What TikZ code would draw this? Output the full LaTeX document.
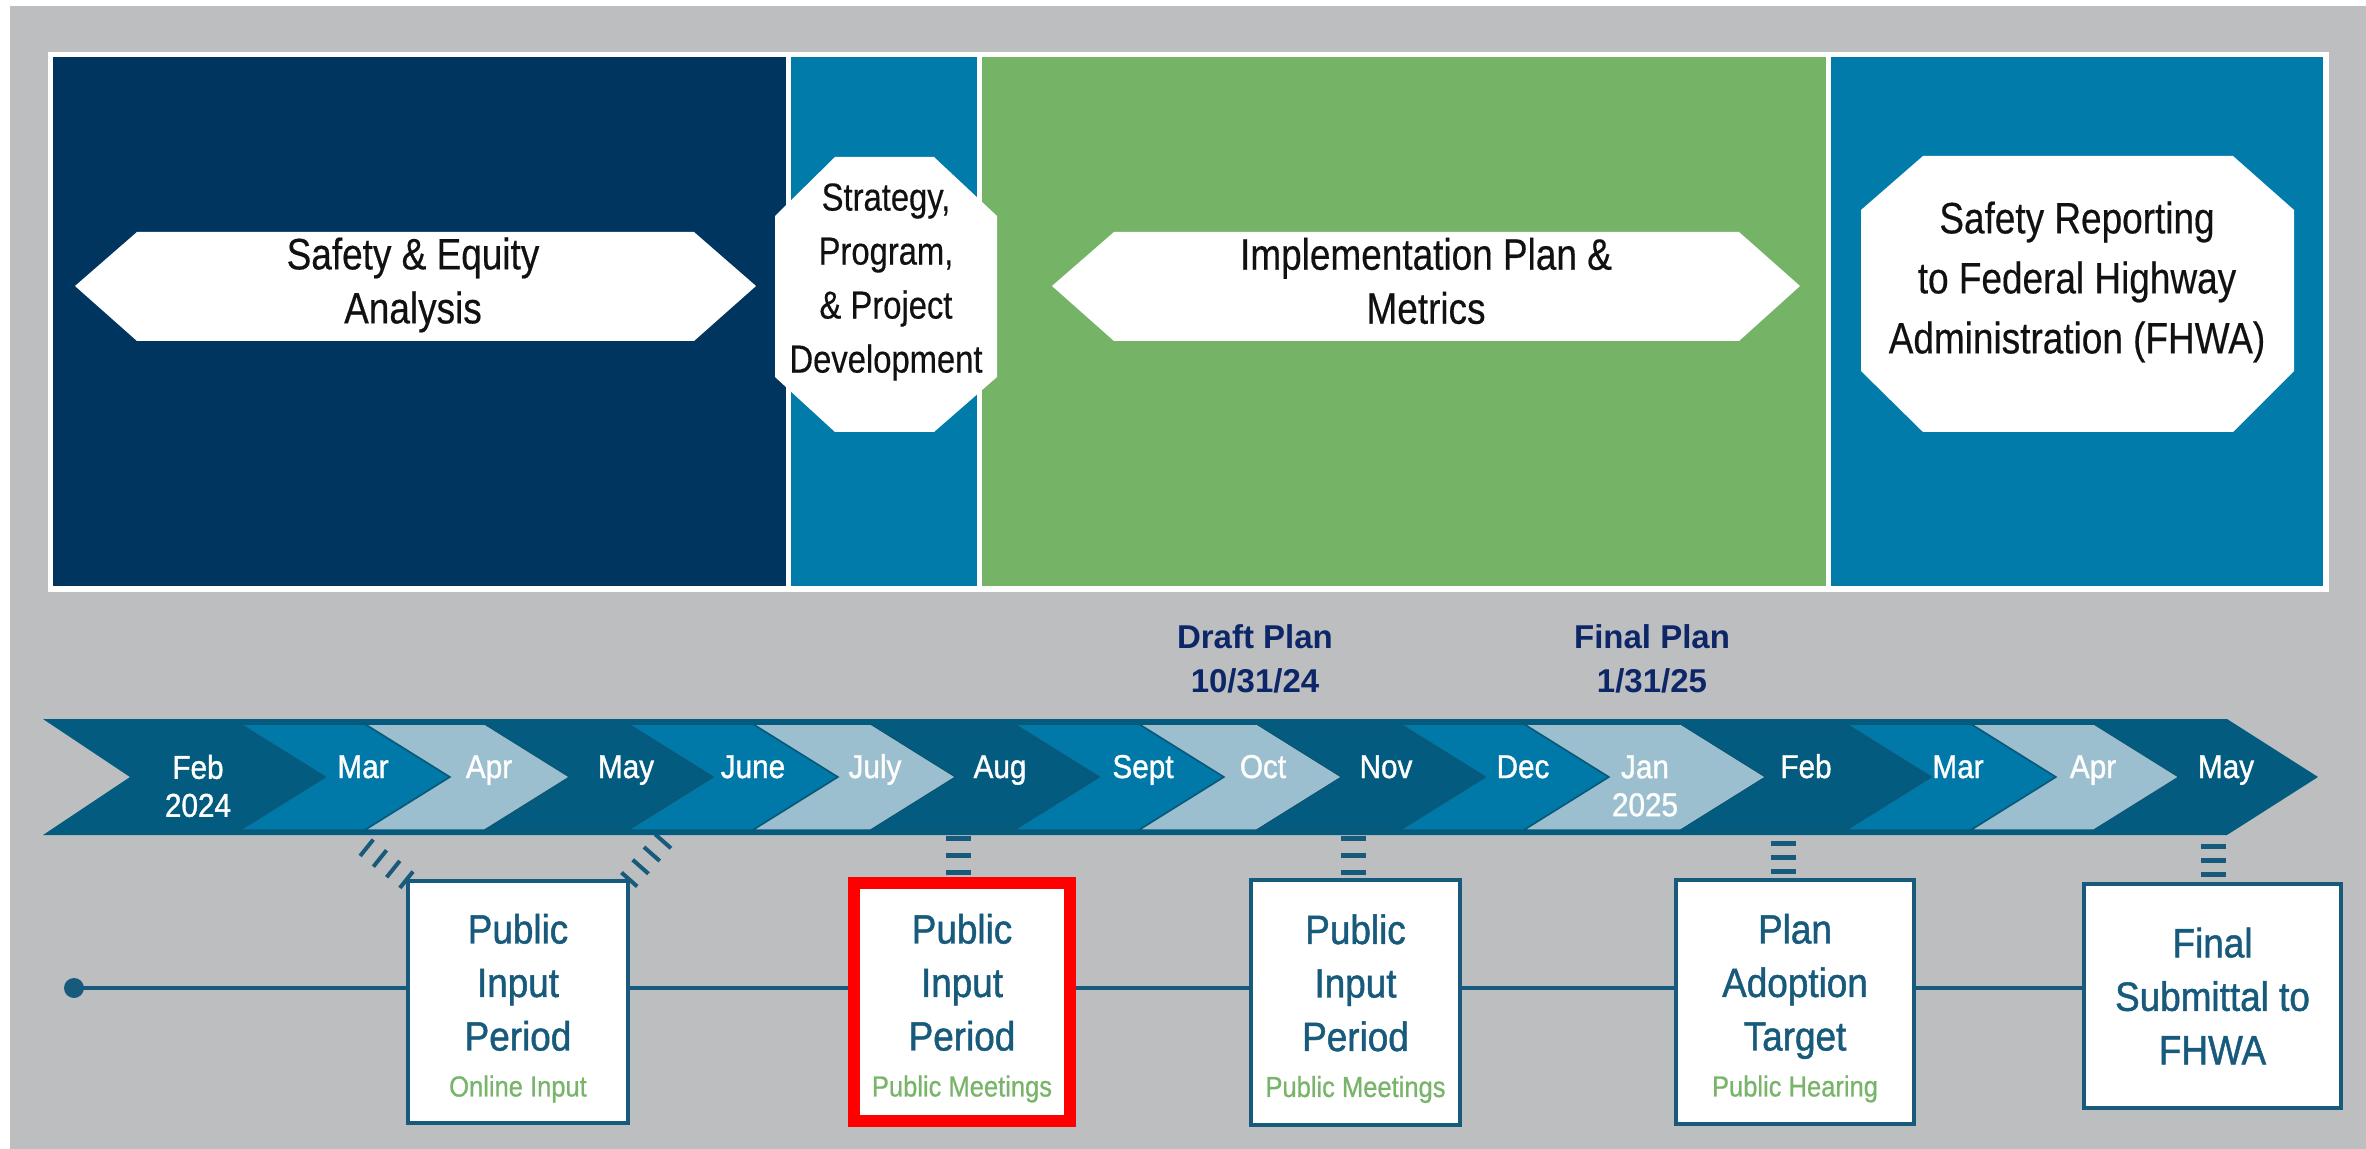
\documentclass[tikz,border=0pt]{standalone}
\usepackage{fontspec}
\setmainfont{Liberation Sans}
\newfontfamily\condf{Liberation Sans}[FakeStretch=0.84,FakeBold=0.4]
\newfontfamily\medf{Liberation Sans}[FakeStretch=0.9,FakeBold=1.1]
\usetikzlibrary{calc}
\definecolor{bggrey}{HTML}{BDBEC0}
\definecolor{navy}{HTML}{00355F}
\definecolor{panelblue}{HTML}{007BAA}
\definecolor{pgreen}{HTML}{75B466}
\definecolor{banddark}{HTML}{035C80}
\definecolor{bandedge}{HTML}{0A5878}
\definecolor{bandmid}{HTML}{0079A9}
\definecolor{bandlight}{HTML}{9BBFCF}
\definecolor{boxblue}{HTML}{175A7B}
\definecolor{subgreen}{HTML}{78B46A}
\definecolor{msnavy}{HTML}{0C2668}
\definecolor{inktext}{HTML}{111111}
\newcommand\subt[1]{{\color{subgreen}\fontsize{14.5}{16}\selectfont\addfontfeature{FakeStretch=0.88,FakeBold=0.7}#1}}
\newcommand\boxstrut{\rule{0pt}{21pt}}
\pgfdeclarelayer{back}
\pgfdeclarelayer{mid}
\pgfsetlayers{back,mid,main}
\begin{document}
\begin{tikzpicture}[x=0.5pt,y=-0.5pt,
  toptext/.style={text=inktext,align=center,inner sep=0pt,font=\condf\fontsize{22}{27}\selectfont},
  month/.style={text=white,align=center,inner sep=0pt,font=\medf\fontsize{16.5}{19}\selectfont},
  milestone/.style={text=msnavy,align=center,inner sep=0pt,font=\bfseries\fontsize{16.5}{22}\selectfont},
  mbox/.style={draw=boxblue,line width=2pt,fill=white,align=center,text=boxblue,inner sep=0pt,outer sep=0pt,font=\medf\fontsize{20.5}{26.75}\selectfont},
  chev/.style={draw=bandedge,line width=0.75pt},
  conn/.style={draw=boxblue,line width=1.75pt},
  hatch/.style={draw=boxblue,line width=10.5pt,dash pattern=on 2pt off 6.5pt},
  bars/.style={draw=boxblue,line width=12.5pt},
]
\useasboundingbox (0,0) rectangle (2366,1149);
\begin{pgfonlayer}{back}
\fill[white] (0,0) rectangle (2366,1149);
\fill[bggrey] (10,6) rectangle (2366,1149);
\end{pgfonlayer}

% top panel
\fill[white] (48,52) rectangle (2329,592);
\fill[navy] (53,57) rectangle (786,586);
\fill[panelblue] (791,57) rectangle (977,586);
\fill[pgreen] (982,57) rectangle (1826,586);
\fill[panelblue] (1831,57) rectangle (2323,586);

\fill[white] (75,286) -- (137,232) -- (694,232) -- (756,286) -- (694,341) -- (137,341) -- cycle;
\fill[white] (1052,286) -- (1114,232) -- (1739,232) -- (1800,286) -- (1739,341) -- (1114,341) -- cycle;
\fill[white] (835,157) -- (934,157) -- (997,216) -- (997,377) -- (934,432) -- (835,432) -- (775,377) -- (775,216) -- cycle;
\fill[white] (1923,156) -- (2233,156) -- (2294,210) -- (2294,371) -- (2233,432) -- (1923,432) -- (1861,371) -- (1861,210) -- cycle;

\node[toptext] (t1) at (413,285) {Safety \& Equity\\Analysis};
\node[toptext,font=\condf\fontsize{19.5}{27}\selectfont] (t2) at (886,282) {Strategy,\\Program,\\\& Project\\Development};
\node[toptext] (t3) at (1426,281) {Implementation Plan \&\\Metrics};
\node[toptext,font=\condf\fontsize{22}{30}\selectfont] (t4) at (2077,282) {Safety Reporting\\to Federal Highway\\Administration (FHWA)};

% milestones
\node[milestone] (draft) at (1255,659) {Draft Plan\\10/31/24};
\node[milestone] (final) at (1652,659) {Final Plan\\1/31/25};

% timeline band
\fill[banddark] (43,719) -- (2227,719) -- (2318,777) -- (2227,835) -- (43,835) -- (130,777) -- cycle;
\foreach \a/\b/\c in {240/365/bandmid, 365/485/bandlight, 485/628/banddark, 628/753/bandmid,
  753/871/bandlight, 871/1014/banddark, 1014/1139/bandmid, 1139/1257/bandlight,
  1257/1400/banddark, 1400/1524/bandmid, 1524/1681/bandlight, 1681/1846/banddark,
  1846/1971/bandmid, 1971/2094/bandlight}
  \filldraw[chev,fill=\c] (\a,724) -- (\b,724) -- ({\b+85},777) -- (\b,830) -- (\a,830) -- ({\a+85},777) -- cycle;

\node[month] (m1) at (198,786) {Feb\\2024};
\node[month,anchor=base] (m2) at (363,778) {Mar};
\node[month,anchor=base] (m3) at (489,778) {Apr};
\node[month,anchor=base] (m4) at (626,778) {May};
\node[month,anchor=base] (m5) at (753,778) {June};
\node[month,anchor=base] (m6) at (875,778) {July};
\node[month,anchor=base] (m7) at (1000,778) {Aug};
\node[month,anchor=base] (m8) at (1143,778) {Sept};
\node[month,anchor=base] (m9) at (1263,778) {Oct};
\node[month,anchor=base] (m10) at (1386,778) {Nov};
\node[month,anchor=base] (m11) at (1523,778) {Dec};
\node[month] (m12) at (1645,786) {Jan\\2025};
\node[month,anchor=base] (m13) at (1806,778) {Feb};
\node[month,anchor=base] (m14) at (1958,778) {Mar};
\node[month,anchor=base] (m15) at (2093,778) {Apr};
\node[month,anchor=base] (m16) at (2226,778) {May};

% boxes
\node[circle,fill=boxblue,minimum size=10pt,inner sep=0pt] (dot) at (74,988) {};
\node[mbox,minimum width=110pt,minimum height=121pt] (b1) at (518,1002)
  {\boxstrut Public\\Input\\Period\\[-3.75pt]\subt{Online Input}};
\node[mbox,draw=red,line width=6pt,minimum width=108pt,minimum height=119pt] (b2) at (962,1002)
  {\boxstrut Public\\Input\\Period\\[-3.75pt]\subt{Public Meetings}};
\node[mbox,minimum width=104.5pt,minimum height=122.5pt] (b3) at (1355.5,1002.5)
  {\boxstrut Public\\Input\\Period\\[-3.75pt]\subt{Public Meetings}};
\node[mbox,minimum width=119pt,minimum height=122pt] (b4) at (1795,1002)
  {\boxstrut Plan\\Adoption\\Target\\[-3.75pt]\subt{Public Hearing}};
\node[mbox,minimum width=128.5pt,minimum height=112pt] (b5) at (2212.5,996)
  {Final\\Submittal to\\FHWA};

\coordinate (hl) at (362,844);
\coordinate (hr) at (666,838);
\coordinate (v2) at (958,835.5);
\coordinate (v3) at (1353,835.5);
\coordinate (v4) at (1783,840.5);
\coordinate (v5) at (2213,843.5);

\begin{pgfonlayer}{mid}
\draw[hatch] (b1.north west) -- (hl);
\draw[hatch] (b1.north east) -- (hr);
\draw[bars,dash pattern=on 2.5pt off 6pt] (v2) -- (v2 |- b2.north);
\draw[bars,dash pattern=on 2.5pt off 6pt] (v3) -- (v3 |- b3.north);
\draw[bars,dash pattern=on 2.5pt off 4.5pt] (v4) -- (v4 |- b4.north);
\draw[bars,dash pattern=on 2.5pt off 4.5pt] (v5) -- (v5 |- b5.north);
\draw[conn] (dot.center) -- (dot.center -| b1.west);
\draw[conn] (b1.east |- dot.center) -- (b2.west |- dot.center);
\draw[conn] (b2.east |- dot.center) -- (b3.west |- dot.center);
\draw[conn] (b3.east |- dot.center) -- (b4.west |- dot.center);
\draw[conn] (b4.east |- dot.center) -- (b5.west |- dot.center);
\end{pgfonlayer}
\end{tikzpicture}
\end{document}
